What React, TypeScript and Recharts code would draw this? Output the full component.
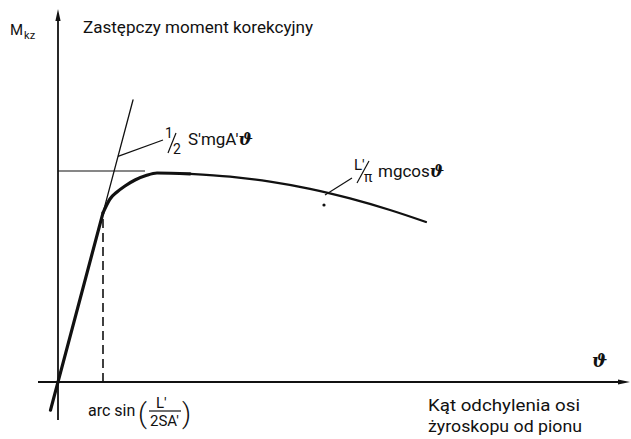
import React from 'react';
import { ComposedChart, Line, XAxis, YAxis, ReferenceLine, ReferenceDot } from 'recharts';

const W = 631;
const H = 439;

// Deflection angle (horizontal) and substitute correcting moment (vertical), arbitrary units
const X_DOMAIN: [number, number] = [-11.6, 114.6];
const Y_DOMAIN: [number, number] = [-14.25, 95.5];

// Axis extents
const X_AXIS = [{ t: -4, m: 0 }, { t: 114.4, m: 0 }];
const Y_AXIS = [{ t: 0, m: -9.5 }, { t: 0, m: 93.25 }];

// Switching angle arcsin(L'/2SA') and the moment reached there
const THETA_ARC = 9.0;
const M_ARC = 42.3;
// Maximum moment level and where it is reached
const M_MAX = 52.75;
const THETA_MAX = 17.4;

// Linear part: 1/2 S'mgA' * theta
const tangentLow = [
  { t: -1.5, m: -7.05 },
  { t: THETA_ARC, m: M_ARC },
];
const tangentHigh = [
  { t: THETA_ARC, m: M_ARC },
  { t: 15.0, m: 70.5 },
];

// Rounded transition to the saturated branch
const kneeCurve = [
  { t: 9.0, m: 42.3 },
  { t: 10.4, m: 45.75 },
  { t: 11.8, m: 47.5 },
  { t: 13.4, m: 49.0 },
  { t: 15.4, m: 50.5 },
  { t: 17.6, m: 51.6 },
  { t: 19.8, m: 52.25 },
  { t: 26.4, m: 52.05 },
];

// Saturated branch: L'/pi * mg cos(theta)
const cosCurve = [
  { t: 26.4, m: 52.05 },
  { t: 34.4, m: 51.35 },
  { t: 42.4, m: 50.1 },
  { t: 50.4, m: 48.3 },
  { t: 58.4, m: 45.9 },
  { t: 66.4, m: 43.0 },
  { t: 73.6, m: 40.0 },
];

// Leader lines for the formula labels
const leaderTangent = [{ t: 12.0, m: 56.4 }, { t: 21.0, m: 60.5 }];
const leaderCos = [{ t: 53.4, m: 46.75 }, { t: 58.8, m: 51.0 }];
const markDot = { t: 53.2, m: 44.25 };

const INK = '#111';
const FONT = "Roboto, 'DejaVu Sans', sans-serif";
const SYM = "'DejaVu Serif', serif";

const arrowShape = (p: any) => {
  const { x1, y1, x2, y2 } = p;
  const ang = Math.atan2(y2 - y1, x2 - x1);
  const len = 12;
  const half = 2.6;
  const bx = x2 - len * Math.cos(ang);
  const by = y2 - len * Math.sin(ang);
  const nx = -Math.sin(ang) * half;
  const ny = Math.cos(ang) * half;
  return (
    <g>
      <line x1={x1} y1={y1} x2={bx} y2={by} stroke={INK} strokeWidth={1.8} />
      <polygon points={`${x2},${y2} ${bx + nx},${by + ny} ${bx - nx},${by - ny}`} fill={INK} />
    </g>
  );
};

const seg = (pts: { t: number; m: number }[]) => pts.map((p) => ({ x: p.t, y: p.m }));

const note = (key: string, t: number, m: number, draw: (x: number, y: number) => React.ReactElement) => (
  <ReferenceDot
    key={key}
    x={t}
    y={m}
    r={0}
    ifOverflow="visible"
    shape={(p: any) => draw(p.cx, p.cy)}
  />
);

const curve = (data: { t: number; m: number }[], width: number, type: 'linear' | 'monotone') => (
  <Line
    data={data}
    dataKey="m"
    type={type}
    dot={false}
    activeDot={false}
    legendType="none"
    stroke={INK}
    strokeWidth={width}
    strokeLinecap="round"
    isAnimationActive={false}
  />
);

export default function App() {
  return (
    <div style={{ position: 'absolute', left: 0, top: 0, width: W, height: H, background: '#fff' }}>
      <ComposedChart width={W} height={H} margin={{ top: 0, right: 0, bottom: 0, left: 0 }}>
        <XAxis type="number" dataKey="t" domain={X_DOMAIN} hide allowDataOverflow />
        <YAxis type="number" dataKey="m" domain={Y_DOMAIN} hide allowDataOverflow />

        <ReferenceLine segment={seg(X_AXIS)} ifOverflow="visible" shape={arrowShape} />
        <ReferenceLine segment={seg(Y_AXIS)} ifOverflow="visible" shape={arrowShape} />

        <ReferenceLine
          segment={[{ x: THETA_ARC, y: 0 }, { x: THETA_ARC, y: M_ARC }]}
          ifOverflow="visible"
          stroke={INK}
          strokeWidth={1.6}
          strokeDasharray="9 5"
        />
        <ReferenceLine
          segment={[{ x: 0, y: M_MAX }, { x: THETA_MAX, y: M_MAX }]}
          ifOverflow="visible"
          stroke={INK}
          strokeWidth={1.2}
        />
        <ReferenceLine segment={seg(leaderTangent)} ifOverflow="visible" stroke={INK} strokeWidth={1.2} />
        <ReferenceLine segment={seg(leaderCos)} ifOverflow="visible" stroke={INK} strokeWidth={1.2} />
        <ReferenceDot x={markDot.t} y={markDot.m} r={1.6} fill={INK} stroke="none" />

        {curve(tangentHigh, 1.3, 'linear')}
        {curve(tangentLow, 3.2, 'linear')}
        {curve(kneeCurve, 3.2, 'monotone')}
        {curve(cosCurve, 2.2, 'monotone')}

        {note('mkz', -9.6, 86.75, (x, y) => (
          <text x={x} y={y} fontFamily={FONT} fill={INK}>
            <tspan fontSize={15}>M</tspan>
            <tspan fontSize={11} dx={1} dy={4}>kz</tspan>
          </text>
        ))}
        {note('title', 5.0, 87.2, (x, y) => (
          <text x={x} y={y} fontFamily={FONT} fontSize={17} fill={INK} textLength={230} lengthAdjust="spacingAndGlyphs">
            Zastępczy moment korekcyjny
          </text>
        ))}
        {note('half', 21.4, 59.25, (x, y) => (
          <g fill={INK} fontFamily={FONT}>
            <text x={x} y={y - 7} fontSize={14}>1</text>
            <line x1={x + 3} y1={y + 8} x2={x + 11} y2={y - 12} stroke={INK} strokeWidth={1.2} />
            <text x={x + 8} y={y + 9} fontSize={14}>2</text>
            <text x={x + 23} y={y} fontSize={17}>
              S′mgA′<tspan fontFamily={SYM} fontStyle="italic" fontWeight="bold">ϑ</tspan>
            </text>
          </g>
        ))}
        {note('cos', 59.2, 51.25, (x, y) => (
          <g fill={INK} fontFamily={FONT}>
            <text x={x} y={y - 7} fontSize={15}>L′</text>
            <line x1={x + 3} y1={y + 6} x2={x + 15} y2={y - 16} stroke={INK} strokeWidth={1.2} />
            <text x={x + 10} y={y + 5} fontSize={14}>π</text>
            <text x={x + 24} y={y} fontSize={17}>
              mgcos<tspan fontFamily={SYM} fontStyle="italic" fontWeight="bold">ϑ</tspan>
            </text>
          </g>
        ))}
        {note('arc', 6.0, -8.5, (x, y) => (
          <g fill={INK} fontFamily={FONT}>
            <text x={x} y={y} fontSize={16}>arc sin</text>
            <text x={x + 50} y={y + 7} fontSize={28} fontWeight={300}>(</text>
            <text x={x + 68} y={y - 8} fontSize={15}>L′</text>
            <line x1={x + 61} y1={y - 5} x2={x + 93} y2={y - 5} stroke={INK} strokeWidth={1.2} />
            <text x={x + 62} y={y + 10} fontSize={15}>2SA′</text>
            <text x={x + 94} y={y + 7} fontSize={28} fontWeight={300}>)</text>
          </g>
        ))}
        {note('theta', 106.8, 3.75, (x, y) => (
          <text x={x} y={y} fontFamily={SYM} fontStyle="italic" fontWeight="bold" fontSize={18} fill={INK}>ϑ</text>
        ))}
        {note('desc', 74.0, -7.25, (x, y) => (
          <text x={x} y={y} fontFamily={FONT} fontSize={17} fill={INK}>
            <tspan x={x} textLength={152} lengthAdjust="spacingAndGlyphs">Kąt odchylenia osi</tspan>
            <tspan x={x} dy={21} textLength={154} lengthAdjust="spacingAndGlyphs">żyroskopu od pionu</tspan>
          </text>
        ))}
      </ComposedChart>
    </div>
  );
}
